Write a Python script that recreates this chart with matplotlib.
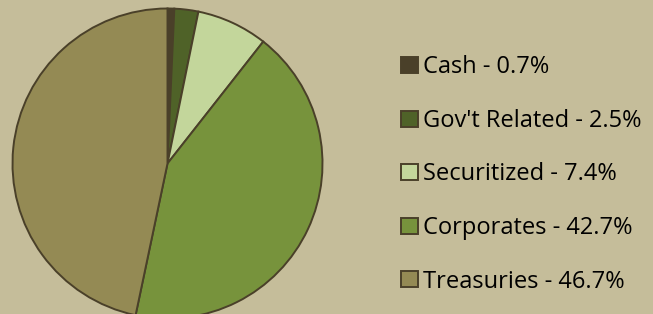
import matplotlib
matplotlib.use("Agg")
import matplotlib.pyplot as plt

categories = ["Cash", "Gov't Related", "Securitized", "Corporates", "Treasuries"]
values = [0.7, 2.5, 7.4, 42.7, 46.7]
colors = ["#4A4029", "#4F6228", "#C3D69B", "#77933C", "#948A54"]
labels = [f"{c} - {v}%" for c, v in zip(categories, values)]

bg = "#C5BD9A"
W, H = 653, 314
fig = plt.figure(figsize=(W / 100, H / 100), dpi=100, facecolor=bg)
ax = fig.add_axes([0, 0, 1, 1])
ax.set_facecolor(bg)

wedges, _ = ax.pie(values, colors=colors, startangle=90, counterclock=False,
                   center=(167.5, 150.5), radius=155, frame=True,
                   wedgeprops=dict(edgecolor="#4A4029", linewidth=1.4))
ax.set_xlim(0, W)
ax.set_ylim(0, H)
ax.set_aspect("equal")
ax.axis("off")

leg = ax.legend(wedges, labels, loc="upper left", bbox_to_anchor=(392 / W, 1 - 46 / H),
                frameon=False, labelspacing=1.25, handlelength=0.68,
                handleheight=0.68, handletextpad=0.22, borderaxespad=0,
                prop={"family": "Open Sans", "size": 17})
for t in leg.get_texts():
    t.set_color("#000000")

fig.savefig("out.png", dpi=100, facecolor=bg)
